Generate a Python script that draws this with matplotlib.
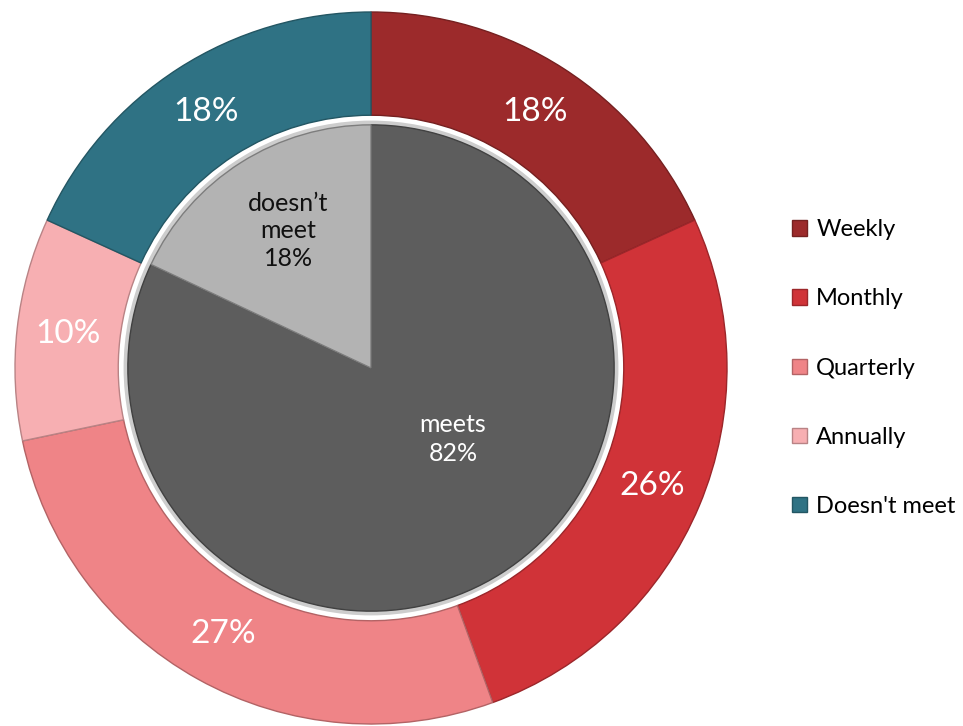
import matplotlib.pyplot as plt
from matplotlib.patches import Circle, Patch

# outer ring: how often the requirement is met
freq_labels = ["Weekly", "Monthly", "Quarterly", "Annually", "Doesn't meet"]
freq_values = [18, 26, 27, 10, 18]
freq_colors = ["#9c2a2b", "#d03338", "#ef8487", "#f7afb2", "#2f7284"]

# inner pie: meets vs doesn't meet
inner_labels = ["meets", "doesn\u2019t\nmeet"]
inner_values = [82, 18]
inner_colors = ["#5d5d5d", "#b3b3b3"]
inner_text_colors = ["white", "#111111"]

plt.rcParams["font.family"] = ["Lato", "DejaVu Sans"]


def darker(hex_color, f=0.75):
    r, g, b = (int(hex_color[i:i + 2], 16) / 255 for i in (1, 3, 5))
    return (r * f, g * f, b * f)


def make_plot():
    fig = plt.figure(figsize=(9.63, 7.26), dpi=100)
    # square axes so that radius 1 is 356 px, centre at (371, 368)
    ax = fig.add_axes([15 / 963, 2 / 726, 712 / 963, 712 / 726])

    wedges, texts = ax.pie(
        freq_values, radius=1.0, startangle=90, counterclock=False,
        colors=freq_colors,
        labels=[f"{v}%" for v in freq_values], labeldistance=0.855,
        wedgeprops=dict(width=0.29, linewidth=1.0),
        textprops=dict(color="white", fontsize=24, ha="center", va="center"))
    for w, c in zip(wedges, freq_colors):
        w.set_edgecolor(darker(c))

    # light bezel between the ring and the inner pie
    ax.add_patch(Circle((0, 0), 0.705, facecolor="white", edgecolor="none"))
    ax.add_patch(Circle((0, 0), 0.695, facecolor="#cdcdcd", edgecolor="none"))

    inner_wedges, _ = ax.pie(
        inner_values, radius=0.683, startangle=90, counterclock=False,
        colors=inner_colors,
        wedgeprops=dict(linewidth=1.0))
    for w, c in zip(inner_wedges, inner_colors):
        w.set_edgecolor(darker(c, 0.7))

    # inner labels
    ax.text(0.23, -0.20, f"{inner_labels[0]}\n{inner_values[0]}%",
            color=inner_text_colors[0], fontsize=18, ha="center", va="center",
            linespacing=1.3)
    ax.text(-0.233, 0.385, f"{inner_labels[1]}\n{inner_values[1]}%",
            color=inner_text_colors[1], fontsize=18, ha="center", va="center",
            linespacing=1.25)

    ax.set_xlim(-1, 1)
    ax.set_ylim(-1, 1)
    ax.axis("off")

    handles = [Patch(facecolor=c, edgecolor=darker(c)) for c in freq_colors]
    fig.legend(handles, freq_labels, loc="center left",
               bbox_to_anchor=(771 / 963, 1 - 368 / 726),
               frameon=False, fontsize=17, labelspacing=2.04,
               handlelength=0.62, handleheight=0.62, handletextpad=0.4)

    fig.savefig("out.png", dpi=100)


if __name__ == "__main__":
    make_plot()
